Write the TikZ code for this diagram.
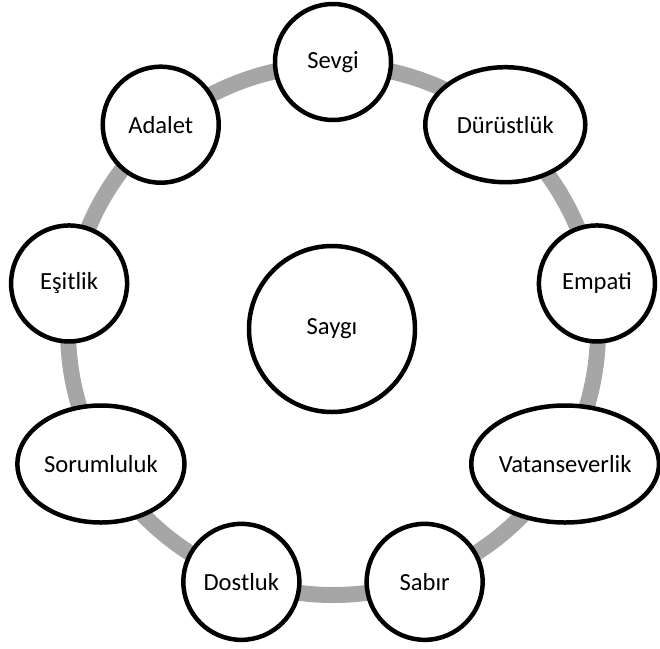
\documentclass[tikz,border=0pt]{standalone}
\usepackage{fontspec}
\setmainfont{Carlito}
\usetikzlibrary{shapes.geometric}
\definecolor{ringgray}{HTML}{A6A6A6}
\tikzset{
  ringline/.style={draw=ringgray, line width=16pt},
  valuecircle/.style={circle, draw=black, line width=4.5pt, fill=white, inner sep=0pt, minimum size=116pt, font=\fontsize{24.6}{28}\selectfont},
  valueellipse/.style={ellipse, draw=black, line width=4.5pt, fill=white, inner sep=0pt, font=\fontsize{24.6}{28}\selectfont},
}
\begin{document}
\begin{tikzpicture}[x=1pt,y=1pt]
\useasboundingbox (0,0) rectangle (660,-648);
\coordinate (c) at (333,-330);
\draw[ringline] (c) circle (265);
\node[valuecircle, minimum size=166pt] (saygi) at (332,-329) {Saygı};
\node[valuecircle] (sevgi) at ([shift={(90:268)}]c) {Sevgi};
\node[valueellipse, minimum width=160pt, minimum height=115pt] (durustluk) at ([shift={(50:268)}]c) {Dürüstlük};
\node[valuecircle] (empati) at ([shift={(10:268)}]c) {Empati};
\node[valueellipse, minimum width=187pt, minimum height=117pt] (vatan) at ([shift={(-30:268)}]c) {Vatanseverlik};
\node[valuecircle] (sabir) at ([shift={(-70:268)}]c) {Sabır};
\node[valuecircle] (dostluk) at ([shift={(-110:268)}]c) {Dostluk};
\node[valueellipse, minimum width=167pt, minimum height=117pt] (sorumluluk) at ([shift={(-150:268)}]c) {Sorumluluk};
\node[valuecircle] (esitlik) at ([shift={(170:268)}]c) {Eşitlik};
\node[valuecircle] (adalet) at ([shift={(130:268)}]c) {Adalet};
\end{tikzpicture}
\end{document}
